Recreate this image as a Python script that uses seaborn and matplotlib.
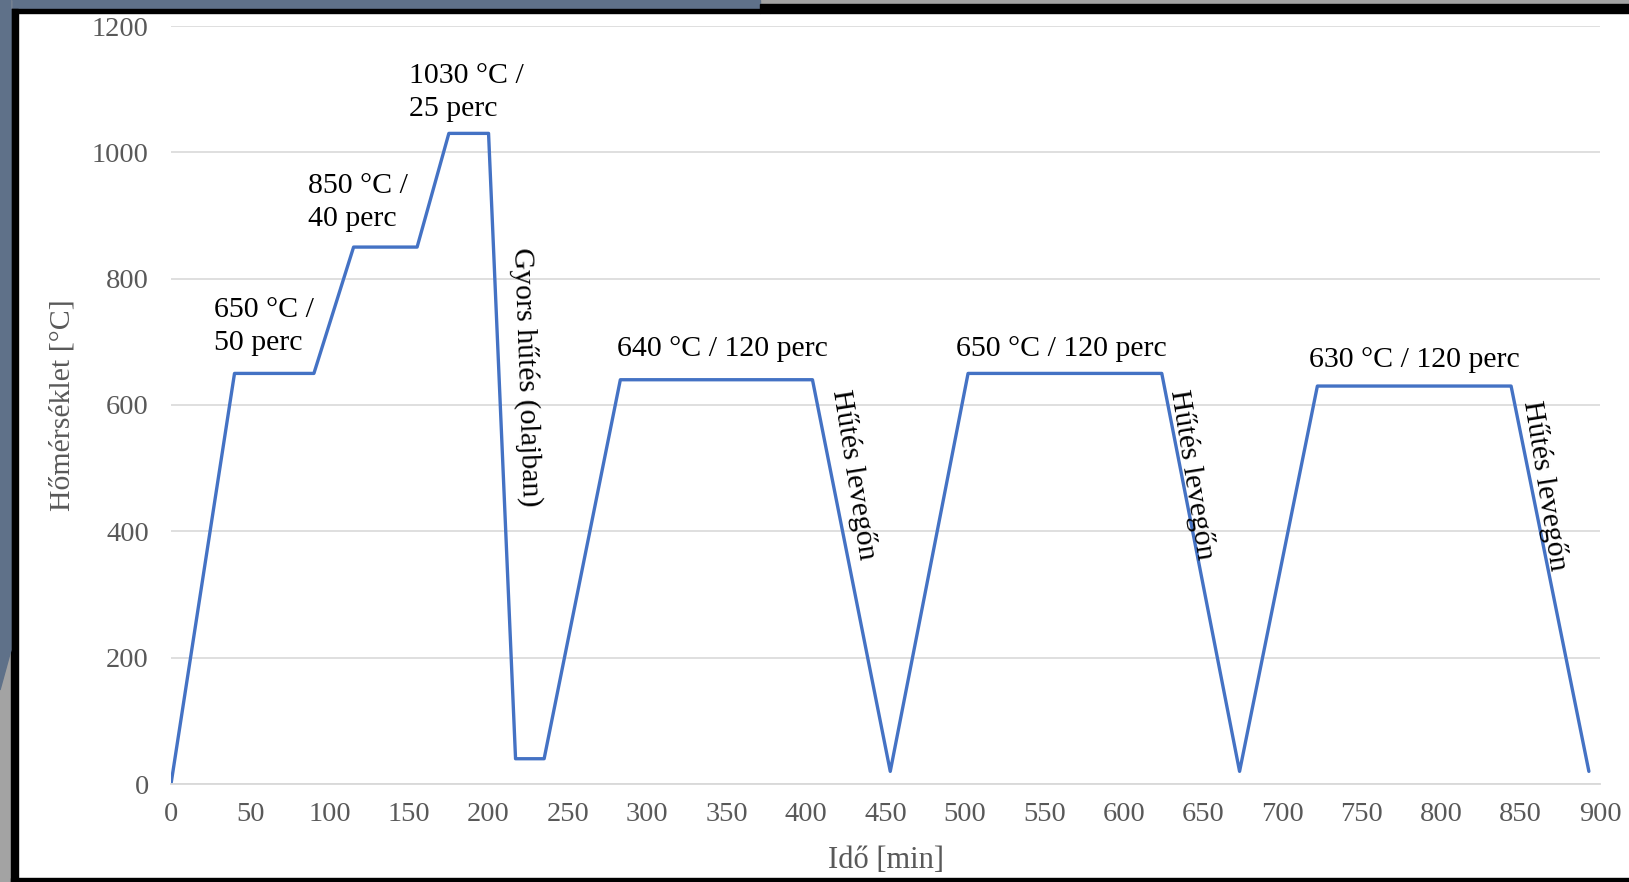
import numpy as np
import pandas as pd
import matplotlib.pyplot as plt
import seaborn as sns
from matplotlib.patches import Rectangle, Polygon

# heat treatment cycle (time in min, temperature in C)
ido = [0, 40, 90, 115, 155, 175, 200, 217, 235, 283, 404, 453, 502, 624, 673, 722, 844, 893]
homerseklet = [0, 650, 650, 850, 850, 1030, 1030, 40, 40, 640, 640, 20, 650, 650, 20, 630, 630, 20]

x_ticks = list(range(0, 901, 50))
y_ticks = list(range(0, 1201, 200))

# holding labels
tartas_szoveg = ['650 °C /\n50 perc', '850 °C /\n40 perc', '1030 °C /\n25 perc',
                 '640 °C / 120 perc', '650 °C / 120 perc', '630 °C / 120 perc']
tartas_x = [27, 86, 150, 347, 561, 783]
tartas_y = [724, 920, 1095, 689, 689, 672]
tartas_ha = ['left', 'left', 'left', 'center', 'center', 'center']

# cooling labels (rotated)
hutes_szoveg = ['Gyors hűtés (olajban)', 'Hűtés levegőn', 'Hűtés levegőn', 'Hűtés levegőn']
hutes_x = [224, 430, 643, 865]
hutes_y = [644, 490, 490, 473]
hutes_rot = [-88, -81, -81, -81]

df = pd.DataFrame({'Idő': ido, 'Hőmérséklet': homerseklet})

sns.set_style('white')
plt.rcParams['font.family'] = ['Liberation Serif', 'DejaVu Serif']

fig = plt.figure(figsize=(16.29, 8.82), dpi=100)
fig.patch.set_facecolor('white')

# slide frame around the chart
W, H = 1629, 882
def px_rect(x0, y0, x1, y1, color):
    fig.patches.append(Rectangle((x0 / W, 1 - y1 / H), (x1 - x0) / W, (y1 - y0) / H,
                                 transform=fig.transFigure, color=color, zorder=-10))
px_rect(0, 0, W, 5, '#a3a3a3')
px_rect(0, 0, 760, 10, '#5f7189')
px_rect(0, 0, 11, H, '#a3a3a3')
fig.patches.append(Polygon([(0, 1), (11 / W, 1), (11 / W, 1 - 650 / H), (0, 1 - 690 / H)],
                           closed=True, transform=fig.transFigure, color='#5f7189', zorder=-9))
px_rect(760, 4, W, 13, 'black')
px_rect(11, 9, 760, 13, 'black')
px_rect(11, 9, 18, H, 'black')
px_rect(11, 878, W, H, 'black')

ax = fig.add_axes([171 / W, 1 - 784 / H, (1600 - 171) / W, (784 - 26) / H])
ax.set_facecolor('none')

sns.lineplot(data=df, x='Idő', y='Hőmérséklet', ax=ax, color='#4472C4', linewidth=2.4,
             sort=False, estimator=None)

ax.set_xlim(0, 900)
ax.set_ylim(0, 1200)
ax.set_xticks(x_ticks)
ax.set_yticks(y_ticks)
ax.tick_params(axis='both', labelsize=20.5, labelcolor='#595959', colors='#d9d9d9')
ax.tick_params(axis='y', length=0, pad=16)
ax.tick_params(axis='x', direction='in', length=6, width=1.2, pad=13)
ax.grid(axis='y', color='#dcdcdc', linewidth=1.3)
ax.set_axisbelow(True)
for s in ['top', 'right', 'left']:
    ax.spines[s].set_visible(False)
ax.spines['bottom'].set_color('#d9d9d9')
ax.spines['bottom'].set_linewidth(1.3)

ax.set_xlabel('Idő [min]', fontsize=22, color='#595959', labelpad=14)
ax.set_ylabel('Hőmérséklet [°C]', fontsize=21.5, color='#595959', labelpad=12)

for t, x, y, ha in zip(tartas_szoveg, tartas_x, tartas_y, tartas_ha):
    ax.text(x, y, t, fontsize=21.5, color='black', ha=ha, va='center', linespacing=1.35)

for t, x, y, r in zip(hutes_szoveg, hutes_x, hutes_y, hutes_rot):
    ax.text(x, y, t, fontsize=21.5, color='black', ha='center', va='center',
            rotation=r, rotation_mode='anchor')

fig.savefig('out.png', dpi=100, facecolor=fig.get_facecolor())
